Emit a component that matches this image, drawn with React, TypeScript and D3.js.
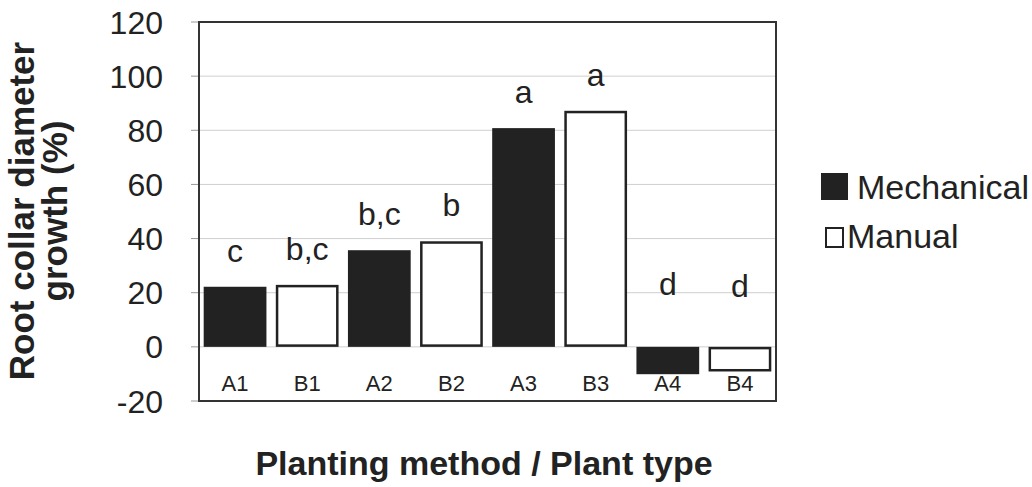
import React from "react";
import * as d3 from "d3";

const categories = ["A1", "B1", "A2", "B2", "A3", "B3", "A4", "B4"];
const methods = ["Mechanical", "Manual", "Mechanical", "Manual", "Mechanical", "Manual", "Mechanical", "Manual"];
const values = [22.2, 22.9, 35.7, 39.0, 80.8, 87.2, -10.1, -9.1];
const letters = ["c", "b,c", "b,c", "b", "a", "a", "d", "d"];
const yTicks = [-20, 0, 20, 40, 60, 80, 100, 120];
const gridValues = [0, 20, 40, 60, 80, 100];
const legendItems = ["Mechanical", "Manual"];

const W = 1032;
const H = 487;
const left = 199;
const right = 776;
const top = 22;
const bottom = 401;
const FONT = "Arial, 'Liberation Sans', Helvetica, sans-serif";

export default function App() {
  const x = d3
    .scaleBand<string>()
    .domain(categories)
    .range([left, right])
    .paddingInner(0.13)
    .paddingOuter(0.065);
  const y = d3.scaleLinear().domain([-20, 120]).range([bottom, top]);

  return (
    <svg
      width={W}
      height={H}
      style={{ position: "absolute", left: 0, top: 0, background: "#fff" }}
      fontFamily={FONT}
    >
      <rect x={0} y={0} width={W} height={H} fill="#fff" />
      {gridValues.map((g) => (
        <line key={"g" + g} x1={left} x2={right} y1={y(g)} y2={y(g)} stroke="#cfcfcf" strokeWidth={1} />
      ))}
      {yTicks.map((t) => (
        <g key={"t" + t}>
          <line x1={left - 8} x2={left} y1={y(t)} y2={y(t)} stroke="#999" strokeWidth={1} />
          <text x={163} y={y(t)} dy="0.36em" textAnchor="end" fontSize={32} fill="#222">
            {t}
          </text>
        </g>
      ))}
      {categories.map((c, i) => {
        const v = values[i];
        const mech = methods[i] === "Mechanical";
        const bx = x(c)!;
        const bw = x.bandwidth();
        const y0 = y(0);
        const yv = y(v);
        const ry = Math.min(y0, yv);
        const rh = Math.abs(yv - y0);
        return (
          <g key={c}>
            {mech ? (
              <rect x={bx} y={ry} width={bw} height={rh} fill="#222" />
            ) : (
              <rect x={bx + 1.25} y={ry + 1.25} width={bw - 2.5} height={rh - 2.5} fill="#fff" stroke="#222" strokeWidth={2.5} />
            )}
            <text x={bx + bw / 2} y={y(Math.abs(v)) - 25} textAnchor="middle" fontSize={32} fill="#222">
              {letters[i]}
            </text>
            <text x={bx + bw / 2} y={391} textAnchor="middle" fontSize={22} fill="#222">
              {c}
            </text>
          </g>
        );
      })}
      <rect x={left} y={top} width={right - left} height={bottom - top} fill="none" stroke="#333" strokeWidth={2} />
      <text
        transform={`translate(34,211) rotate(-90)`}
        textAnchor="middle"
        fontSize={35}
        fontWeight="bold"
        fill="#222"
      >
        Root collar diameter
      </text>
      <text
        transform={`translate(67,211) rotate(-90)`}
        textAnchor="middle"
        fontSize={35}
        fontWeight="bold"
        fill="#222"
      >
        growth (%)
      </text>
      <text x={484} y={475} textAnchor="middle" fontSize={34} fontWeight="bold" fill="#222">
        Planting method / Plant type
      </text>
      {legendItems.map((l, i) => (
        <g key={l}>
          {i === 0 ? (
            <rect x={821} y={173} width={27} height={27} fill="#222" />
          ) : (
            <rect x={826} y={228} width={17} height={19} fill="#fff" stroke="#222" strokeWidth={2} />
          )}
          <text x={i === 0 ? 857 : 847} y={i === 0 ? 199 : 248} fontSize={34} fill="#222">
            {l}
          </text>
        </g>
      ))}
    </svg>
  );
}
